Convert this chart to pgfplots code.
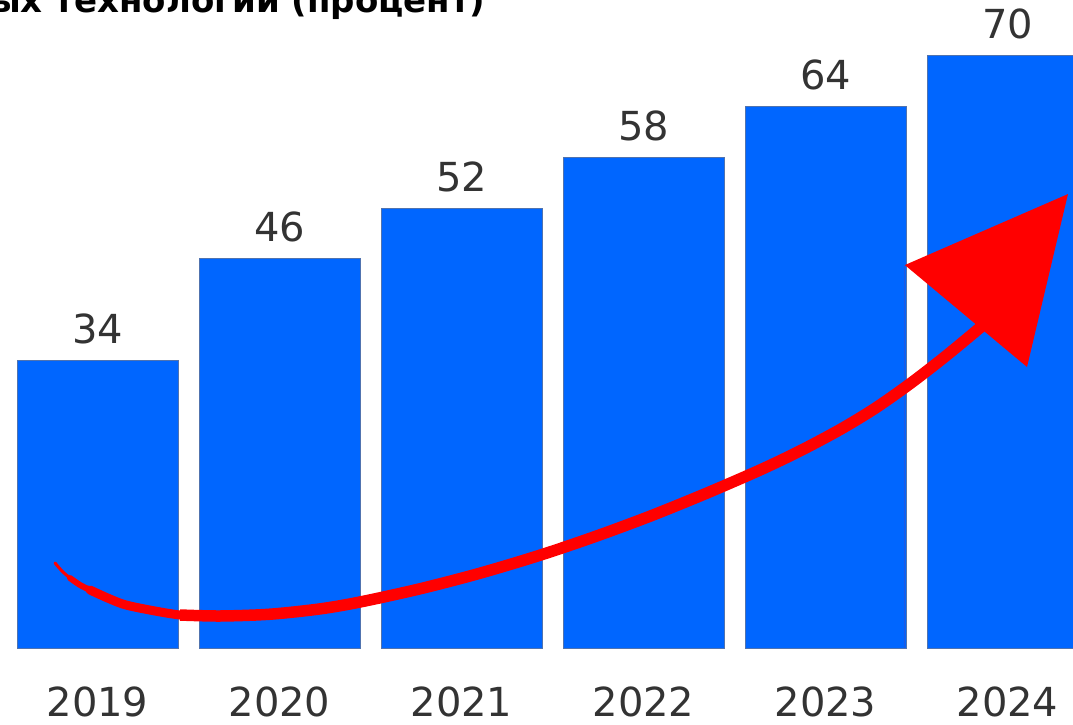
\documentclass[border=0pt]{standalone}
\usepackage{pgfplots}
\pgfplotsset{compat=1.18}
\usepackage{fontspec}
\setmainfont{DejaVu Sans}
\definecolor{barblue}{RGB}{0,102,255}
\definecolor{baredge}{RGB}{80,115,175}
\definecolor{lbl}{RGB}{51,51,51}
\definecolor{arrowred}{RGB}{255,0,0}
\begin{document}
\begin{tikzpicture}[x=1pt,y=1pt]
\begin{axis}[
  at={(0,0)}, anchor=south west,
  scale only axis, width=1073pt, height=648pt,
  xmin=-0.5357, xmax=5.3599, ymin=0, ymax=76.6,
  hide axis, clip=false,
  ybar, bar width=161pt,
  point meta=explicit symbolic,
  nodes near coords={\fontsize{40}{48}\selectfont\pgfplotspointmeta},
  nodes near coords style={anchor=base, yshift=17pt, text=lbl},
]
\addplot[fill=barblue, draw=baredge, line width=0.8pt] coordinates {(0,34) [34] (1,46) [46] (2,52) [52] (3,58) [58] (4,64) [64] (5,70) [70]};
\end{axis}
\begin{axis}[
  at={(0,0)}, anchor=south west,
  scale only axis, width=1073pt, height=648pt,
  xmin=-0.5357, xmax=5.3599, ymin=0, ymax=76.6,
  hide axis, clip=false,
]
\addplot[arrowred, line width=3pt, smooth, line cap=round] coordinates {(-0.2335,10.05) (-0.195,9.10) (-0.151,8.27) (-0.0962,7.45) (-0.0412,6.86)};
\addplot[arrowred, line width=6pt, smooth, line cap=round] coordinates {(-0.151,8.27) (-0.0962,7.45) (-0.0412,6.86) (0.0687,5.79) (0.1786,4.965)};
\addplot[arrowred, line width=9pt, smooth, line cap=round] coordinates {(-0.0412,6.86) (0.0687,5.79) (0.1786,4.965) (0.4533,3.901) (0.6731,3.783)};
\addplot[arrowred, line width=11.5pt, smooth] coordinates {(0.4533,3.901) (0.6731,3.783) (0.9478,3.995) (1.2225,4.622) (1.4423,5.437) (1.7720,6.998) (2.1016,8.842) (2.4313,10.97) (2.7335,13.17) (3.0357,15.58) (3.3379,18.22) (3.6401,21.04) (3.8599,23.30) (4.0797,25.82) (4.2720,28.33) (4.4643,31.24) (4.6566,34.44) (4.8489,37.86) (4.9038,38.88)};
\addplot[fill=arrowred, draw=none] coordinates {(4.436,45.27) (5.332,53.66) (5.107,33.22) (4.436,45.27)} \closedcycle;
\node[anchor=base, font=\fontsize{40}{48}\selectfont, text=lbl] at (axis cs:0,0) [yshift=-68pt] {2019};
\node[anchor=base, font=\fontsize{40}{48}\selectfont, text=lbl] at (axis cs:1,0) [yshift=-68pt] {2020};
\node[anchor=base, font=\fontsize{40}{48}\selectfont, text=lbl] at (axis cs:2,0) [yshift=-68pt] {2021};
\node[anchor=base, font=\fontsize{40}{48}\selectfont, text=lbl] at (axis cs:3,0) [yshift=-68pt] {2022};
\node[anchor=base, font=\fontsize{40}{48}\selectfont, text=lbl] at (axis cs:4,0) [yshift=-68pt] {2023};
\node[anchor=base, font=\fontsize{40}{48}\selectfont, text=lbl] at (axis cs:5,0) [yshift=-68pt] {2024};
\end{axis}
\node[anchor=base west, font=\fontsize{34}{40}\selectfont\bfseries, text=black, inner sep=0pt] at (-10pt,635pt) {ых технологий (процент)};
\pgfresetboundingbox
\useasboundingbox (0,-76pt) rectangle (1073pt,648pt);
\end{tikzpicture}
\end{document}
